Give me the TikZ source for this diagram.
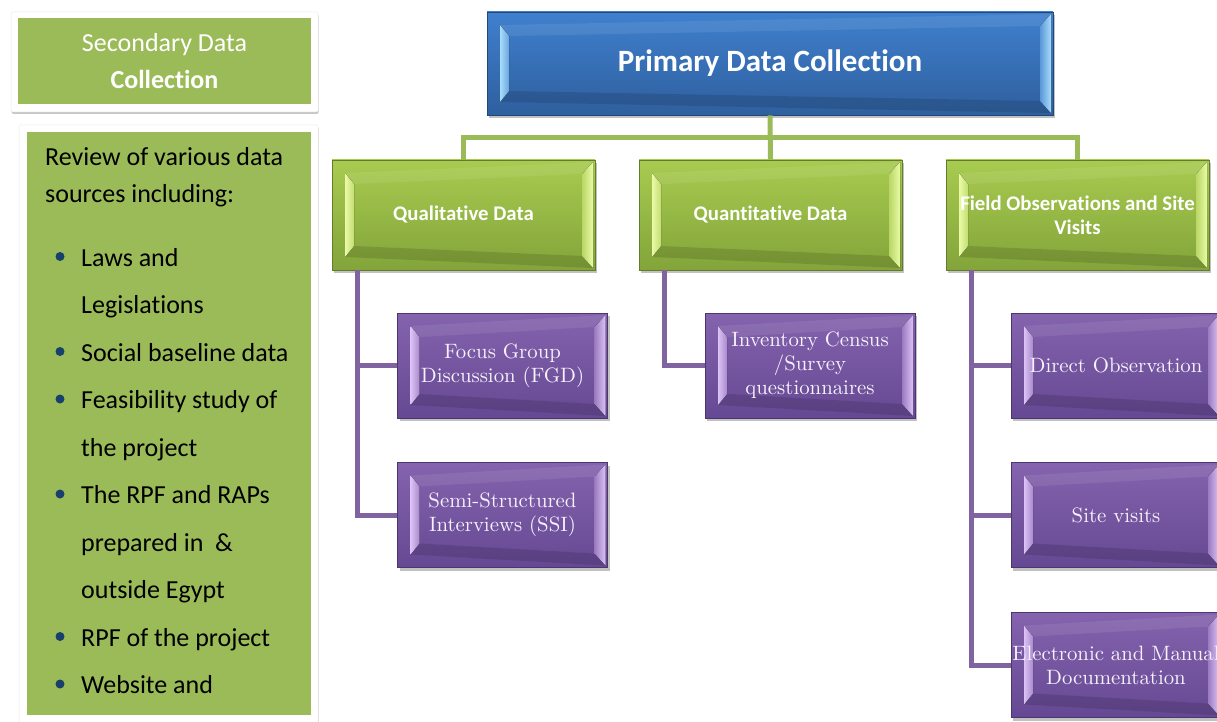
\documentclass[tikz,border=0pt]{standalone}
\usepackage{fontspec}
\newfontfamily\carl{Carlito}[Ligatures=CommonOff]
\newfontfamily\serifx{lmroman10-regular.otf}
\usetikzlibrary{calc,shadows}

\definecolor{primtop}{HTML}{3F80CE}
\definecolor{primbot}{HTML}{2F5F9E}
\definecolor{primhi}{HTML}{A8DCFA}
\definecolor{cattop}{HTML}{A8CB50}
\definecolor{catbot}{HTML}{83A43A}
\definecolor{cathi}{HTML}{EAFAA6}
\definecolor{subtop}{HTML}{8563AE}
\definecolor{subbot}{HTML}{654893}
\definecolor{subhi}{HTML}{DCC2F6}
\definecolor{olive}{HTML}{9BBB59}
\definecolor{plum}{HTML}{8064A2}
\definecolor{navy}{HTML}{17406D}
\definecolor{subtext}{HTML}{F6F1FA}

\tikzset{
  % bevelled frame: light side panels, faint top band, darker bottom band
  bevel/.style 2 args={path picture={
    \coordinate (bnw) at (path picture bounding box.north west);
    \coordinate (bne) at (path picture bounding box.north east);
    \coordinate (bsw) at (path picture bounding box.south west);
    \coordinate (bse) at (path picture bounding box.south east);
    \fill[white, opacity=.08] ($(bnw)+(13,13)$) -- ($(bne)+(-2,2)$) -- ($(bne)+(-13,14)$) -- ($(bnw)+(22,24)$) -- cycle;
    \fill[black, opacity=.12] ($(bsw)+(13,-13)$) -- ($(bse)+(-2,-2)$) -- ($(bse)+(-13,-14)$) -- ($(bsw)+(22,-24)$) -- cycle;
    \fill[left color=#1, right color=#1!40!#2] ($(bnw)+(13,13)$) -- ($(bnw)+(22,24)$) -- ($(bsw)+(22,-24)$) -- ($(bsw)+(13,-13)$) -- cycle;
    \fill[left color=#1!25!#2, right color=#1] ($(bne)+(-2,2)$) -- ($(bne)+(-13,14)$) -- ($(bse)+(-13,-14)$) -- ($(bse)+(-2,-2)$) -- cycle;
  }},
  boxshadow/.style={drop shadow={shadow xshift=2pt, shadow yshift=-3pt, opacity=.35, fill=black!70}},
  primbox/.style={rectangle, inner sep=0pt, minimum width=566pt, minimum height=103pt,
    top color=primtop, bottom color=primbot, draw=primbot!75!black, line width=.6pt,
    bevel={primhi}{primtop}, boxshadow, text=white, align=center,
    font=\carl\bfseries\fontsize{31}{36}\selectfont},
  catbox/.style={rectangle, inner sep=0pt, minimum width=263pt, minimum height=110pt,
    top color=cattop, bottom color=catbot, draw=catbot!75!black, line width=.6pt,
    bevel={cathi}{cattop}, boxshadow, text=white, align=center,
    font=\carl\bfseries\fontsize{20.8}{24}\selectfont},
  subbox/.style={rectangle, inner sep=0pt, minimum width=210pt, minimum height=105pt,
    top color=subtop, bottom color=subbot, draw=subbot!75!black, line width=.6pt,
    bevel={subhi}{subtop}, boxshadow, text=subtext, align=center,
    font=\serifx\fontsize{20.8}{24}\selectfont},
  gline/.style={draw=olive, line width=5pt},
  pline/.style={draw=plum, line width=5pt},
  card/.style={rectangle, inner sep=0pt, fill=white, draw=black!8, line width=.5pt,
    rounded corners=1.5pt, drop shadow={shadow xshift=.5pt, shadow yshift=-2pt, opacity=.22, fill=black}},
  flatgreen/.style={rectangle, inner sep=0pt, fill=olive},
  listtxt/.style={anchor=base west, inner sep=0pt, text=black, font=\carl\fontsize{26}{30}\selectfont},
  dot/.style={circle, fill=navy, minimum size=9pt, inner sep=0pt},
}

\begin{document}
\begin{tikzpicture}[x=1pt, y=-1pt]
\useasboundingbox (0,0) rectangle (1217,722);
\clip (0,0) rectangle (1217,722);

% ---- secondary data column ----
\node[card, minimum width=307pt, minimum height=100pt] (seccard) at (164.5,62) {};
\node[flatgreen, minimum width=293pt, minimum height=86pt, text=white, align=center,
      font=\carl\fontsize{26}{37}\selectfont] (sec) at (164.5,61.5) {Secondary Data\\\textbf{Collection}};

\node[card, minimum width=299pt, minimum height=605pt] (listcard) at (168.5,427.5) {};
\node[flatgreen, minimum width=284pt, minimum height=583pt] (listbox) at (169,423.5) {};

\node[listtxt] (r1) at (45,166) {Review of various data};
\node[listtxt] (r2) at (45,203) {sources including:};
\node[listtxt] (i1) at (81,266) {Laws and};
\node[listtxt] (i1b) at (81,313.5) {Legislations};
\node[listtxt] (i2) at (81,361) {Social baseline data};
\node[listtxt] (i3) at (81,408.5) {Feasibility study of};
\node[listtxt] (i3b) at (81,456) {the project};
\node[listtxt] (i4) at (81,503.5) {The RPF and RAPs};
\node[listtxt] (i4b) at (81,551) {prepared in\ \ \&};
\node[listtxt] (i4c) at (81,598.5) {outside Egypt};
\node[listtxt] (i5) at (81,646) {RPF of the project};
\node[listtxt] (i6) at (81,693.5) {Website and};
\foreach \y/\n in {256.5/1, 351.5/2, 399/3, 494/4, 636.5/5, 684/6}
  \node[dot] (d\n) at (60,\y) {};

% ---- primary data collection tree ----
\node[primbox] (prim) at (770,63.5) {Primary Data Collection};

\node[catbox] (qual)  at (463.5,215) {Qualitative Data};
\node[catbox] (quant) at (770.5,215) {Quantitative Data};
\node[catbox] (field) at (1077.5,215) {Field Observations and Site\\Visits};

\node[subbox] (fgd)  at (502.5,365.5) {Focus Group\\Discussion (FGD)};
\node[subbox] (ssi)  at (502.5,515)   {Semi-Structured\\Interviews (SSI)};
\node[subbox] (inv)  at (810,365.5)   {Inventory Census\\/Survey\\questionnaires};
\node[subbox] (dobs) at (1116,365.5)  {Direct Observation};
\node[subbox] (site) at (1116,515)    {Site visits};
\node[subbox] (elec) at (1116,665)    {Electronic and Manual\\Documentation};

% bus from the primary box to the three categories
\coordinate (bus) at ($(prim.south)+(0,22)$);
\draw[gline] (prim.south) -- (quant.north);
\draw[gline, line join=miter] (qual.north) |- (bus) -| (field.north);

% branches from each category to its methods
\coordinate (qtrunk) at ($(qual.south west)+(26,0)$);
\coordinate (ntrunk) at ($(quant.south west)+(26,0)$);
\coordinate (ftrunk) at ($(field.south west)+(26,0)$);
\draw[pline] (qtrunk) |- (fgd.west);
\draw[pline] (qtrunk) |- (ssi.west);
\draw[pline] (ntrunk) |- (inv.west);
\draw[pline] (ftrunk) |- (dobs.west);
\draw[pline] (ftrunk) |- (site.west);
\draw[pline] (ftrunk) |- (elec.west);
\end{tikzpicture}
\end{document}
